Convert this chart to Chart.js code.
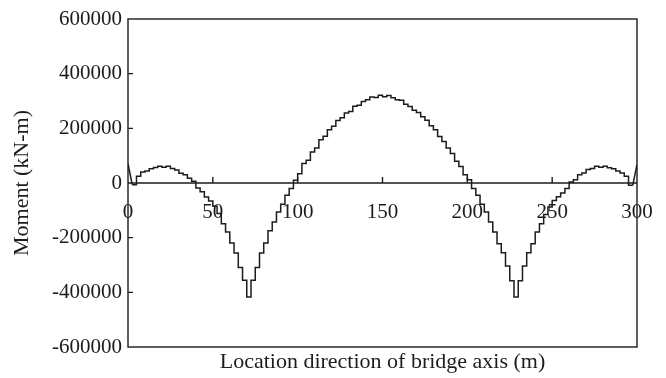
<!DOCTYPE html>
<html>
<head>
<meta charset="utf-8">
<script src="https://cdn.jsdelivr.net/npm/chart.js@4.4.1/dist/chart.umd.min.js"></script>
<style>
  html, body { margin: 0; padding: 0; background: #fff; }
  canvas { display: block; }
</style>
</head>
<body>
<canvas id="chart" width="666" height="378"></canvas>
<script>
// start of each element step along the bridge (m)
const stepStart = [
  2.5, 5, 7.5, 10, 12.5, 15, 17.5, 20, 22.5, 25,
  27.5, 30, 32.5, 35, 37.5, 40, 42.5, 45, 47.5, 50,
  52.5, 55, 57.5, 60, 62.5, 65, 67.5, 70, 72.5, 75,
  77.5, 80, 82.5, 85, 87.5, 90, 92.5, 95, 97.5, 100,
  102.5, 105, 107.5, 110, 112.5, 115, 117.5, 120, 122.5, 125,
  127.5, 130, 132.5, 135, 137.5, 140, 142.5, 145, 147.5, 150,
  152.5, 155, 157.5, 160, 162.5, 165, 167.5, 170, 172.5, 175,
  177.5, 180, 182.5, 185, 187.5, 190, 192.5, 195, 197.5, 200,
  202.5, 205, 207.5, 210, 212.5, 215, 217.5, 220, 222.5, 225,
  227.5, 230, 232.5, 235, 237.5, 240, 242.5, 245, 247.5, 250,
  252.5, 255, 257.5, 260, 262.5, 265, 267.5, 270, 272.5, 275,
  277.5, 280, 282.5, 285, 287.5, 290, 292.5, 295, 297.5,
]
// moment on each step (kN-m)
const moment = [
  -6000, 24500, 40000, 44000, 52000, 57000, 61000, 58000, 61000, 53000,
  48000, 36000, 30000, 17000, 6000, -18000, -32000, -51000, -66000, -85000,
  -112000, -149000, -179000, -219500, -256000, -309500, -356000, -417000, -356000, -309500,
  -256000, -219500, -175000, -143000, -106000, -78000, -45000, -20500, 10000, 34000,
  71000, 83000, 113500, 128000, 158500, 171000, 195000, 207500, 229000, 239000,
  256000, 262000, 280500, 284000, 298000, 305000, 314500, 312500, 321000, 316000,
  320000, 312000, 305000, 302500, 288000, 280000, 266000, 258000, 242000, 230000,
  209000, 195000, 170000, 152000, 128000, 108000, 80000, 60000, 30000, 12000,
  -20500, -45000, -78000, -106000, -143000, -179000, -222000, -255000, -304000, -358000,
  -417000, -358000, -304000, -255000, -222000, -179000, -149000, -115000, -88000, -64000,
  -50000, -36500, -20500, 4000, 12000, 30000, 37000, 49000, 53000, 61000,
  58000, 61000, 56000, 52000, 44000, 36500, 24500, -8500, -8500,
]
// sloped pieces at both abutments
const leftEndX = [0, 2.5]
const leftEndM = [71000, -6000]
const rightEndX = [297.5, 300]
const rightEndM = [-8500, 68000]

const xTicks = [0, 50, 100, 150, 200, 250, 300]
const yInnerTicks = [400000, 200000, -200000, -400000]

const ink = "#1c1c1c"
const serif = "'Liberation Serif', 'Times New Roman', serif"

const toPoints = (xs, ys) => xs.map((x, i) => ({ x: x, y: ys[i] }))

// frame, zero line, inner ticks and the x labels sitting under the zero line
const axisDecor = {
  id: "axisDecor",
  beforeDatasetsDraw(chart) {
    const { ctx, scales } = chart
    const y0 = scales.y.getPixelForValue(0)
    ctx.save()
    ctx.fillStyle = ink
    ctx.font = "21px " + serif
    ctx.textAlign = "center"
    ctx.textBaseline = "middle"
    xTicks.forEach((v) => {
      ctx.fillText(String(v), scales.x.getPixelForValue(v), y0 + 29)
    })
    ctx.restore()
  },
  afterDatasetsDraw(chart) {
    const { ctx, chartArea: a, scales } = chart
    const y0 = scales.y.getPixelForValue(0)
    ctx.save()
    ctx.strokeStyle = ink
    ctx.lineWidth = 1.4
    ctx.strokeRect(a.left, a.top, a.right - a.left, a.bottom - a.top)
    ctx.beginPath()
    ctx.moveTo(a.left, y0)
    ctx.lineTo(a.right, y0)
    xTicks.slice(1, -1).forEach((v) => {
      const px = scales.x.getPixelForValue(v)
      ctx.moveTo(px, y0)
      ctx.lineTo(px, y0 - 6)
    })
    yInnerTicks.forEach((v) => {
      const py = scales.y.getPixelForValue(v)
      ctx.moveTo(a.left, py)
      ctx.lineTo(a.left + 5, py)
    })
    ctx.stroke()
    ctx.restore()
  },
}

new Chart(document.getElementById("chart"), {
  type: "line",
  data: {
    datasets: [
      {
        data: toPoints(stepStart, moment),
        stepped: true,
        borderColor: ink,
        borderWidth: 1.5,
        pointRadius: 0,
        fill: false,
      },
      {
        data: toPoints(leftEndX, leftEndM),
        borderColor: ink,
        borderWidth: 1.5,
        pointRadius: 0,
        fill: false,
      },
      {
        data: toPoints(rightEndX, rightEndM),
        borderColor: ink,
        borderWidth: 1.5,
        pointRadius: 0,
        fill: false,
      },
    ],
  },
  options: {
    responsive: false,
    animation: false,
    devicePixelRatio: 1,
    layout: { padding: { top: 19, right: 29, bottom: 0, left: 0 } },
    plugins: {
      legend: { display: false },
      tooltip: { enabled: false },
    },
    scales: {
      x: {
        type: "linear",
        min: 0,
        max: 300,
        ticks: { display: false },
        grid: { display: false },
        border: { display: false },
        title: {
          display: true,
          text: "Location direction of bridge axis (m)",
          color: ink,
          font: { family: serif, size: 22 },
          padding: { top: 0, bottom: 3 },
        },
        afterFit(scale) {
          scale.height = 31
        },
      },
      y: {
        min: -600000,
        max: 600000,
        ticks: {
          stepSize: 200000,
          padding: 6,
          color: ink,
          font: { family: serif, size: 21 },
          callback: (v) => String(v),
        },
        grid: { display: false, drawTicks: false, tickLength: 0 },
        border: { display: false },
        title: {
          display: true,
          text: "Moment (kN-m)",
          color: ink,
          font: { family: serif, size: 22 },
          padding: { top: 9, bottom: 0 },
        },
        afterFit(scale) {
          scale.width = 128
        },
      },
    },
  },
  plugins: [axisDecor],
})
</script>
</body>
</html>
